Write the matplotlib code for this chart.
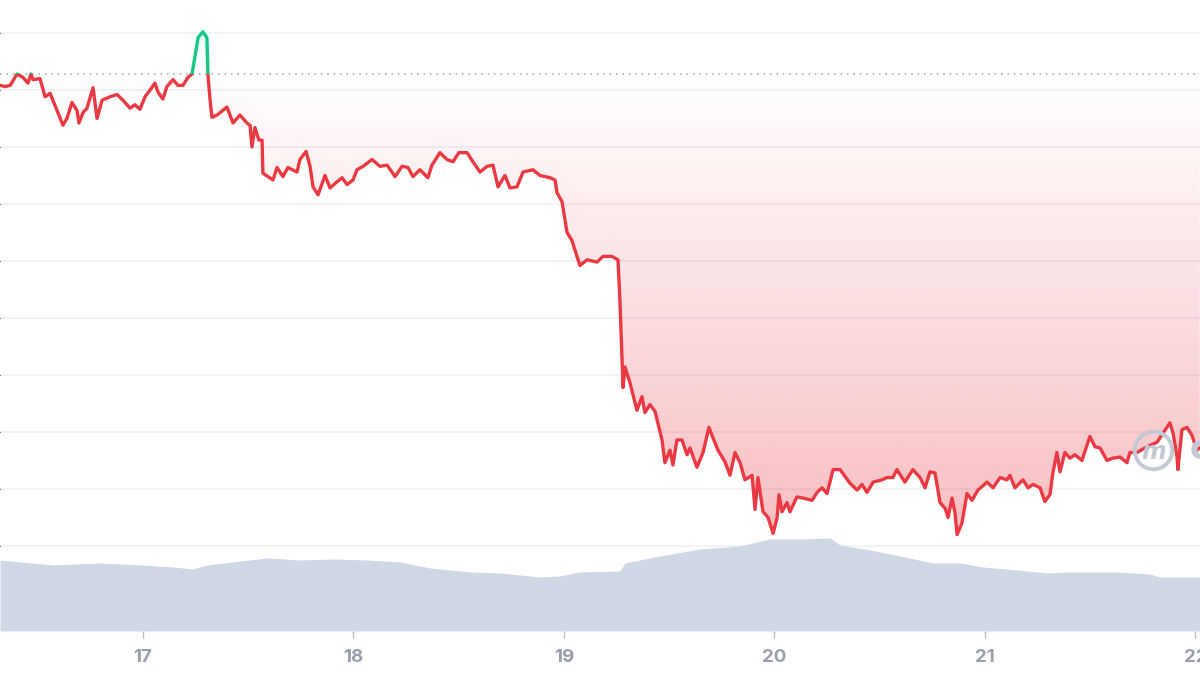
import numpy as np
import matplotlib
matplotlib.use("Agg")
import matplotlib.pyplot as plt
from matplotlib.path import Path
from matplotlib.patches import Rectangle
from matplotlib.colors import to_rgb

# price trace (day of month, USD)
days = [16.321, 16.345, 16.369, 16.402, 16.430, 16.454, 16.468, 16.478, 16.511, 16.535,
        16.559, 16.592, 16.620, 16.639, 16.663, 16.687, 16.696, 16.715, 16.734, 16.763,
        16.782, 16.806, 16.844, 16.877, 16.905, 16.939, 16.962, 16.986, 17.010, 17.034,
        17.057, 17.072, 17.095, 17.114, 17.143, 17.167, 17.190, 17.214, 17.233, 17.247,
        17.262, 17.285, 17.304, 17.309, 17.319, 17.328, 17.352, 17.366, 17.399, 17.428,
        17.461, 17.494, 17.509, 17.518, 17.532, 17.551, 17.566, 17.570, 17.618, 17.637,
        17.665, 17.689, 17.732, 17.746, 17.775, 17.794, 17.808, 17.832, 17.865, 17.889,
        17.913, 17.946, 17.970, 17.998, 18.017, 18.046, 18.088, 18.126, 18.160, 18.198,
        18.231, 18.259, 18.283, 18.316, 18.354, 18.373, 18.411, 18.444, 18.473, 18.501,
        18.540, 18.568, 18.601, 18.635, 18.663, 18.687, 18.720, 18.744, 18.777, 18.806,
        18.853, 18.886, 18.934, 18.958, 18.967, 18.991, 19.015, 19.038, 19.062, 19.076,
        19.110, 19.157, 19.186, 19.228, 19.257, 19.266, 19.276, 19.281, 19.290, 19.314,
        19.347, 19.371, 19.385, 19.409, 19.433, 19.466, 19.480, 19.504, 19.518, 19.537,
        19.561, 19.585, 19.599, 19.632, 19.661, 19.689, 19.708, 19.732, 19.765, 19.789,
        19.813, 19.837, 19.860, 19.894, 19.908, 19.922, 19.946, 19.970, 19.994, 20.013,
        20.022, 20.036, 20.060, 20.074, 20.107, 20.136, 20.179, 20.203, 20.226, 20.250,
        20.279, 20.312, 20.359, 20.393, 20.416, 20.440, 20.469, 20.511, 20.535, 20.563,
        20.582, 20.620, 20.658, 20.692, 20.716, 20.739, 20.763, 20.787, 20.811, 20.825,
        20.844, 20.858, 20.868, 20.891, 20.915, 20.939, 20.967, 21.010, 21.039, 21.072,
        21.105, 21.119, 21.143, 21.181, 21.205, 21.229, 21.262, 21.285, 21.309, 21.323,
        21.342, 21.357, 21.380, 21.404, 21.428, 21.461, 21.499, 21.523, 21.547, 21.580,
        21.608, 21.642, 21.675, 21.689, 21.723, 21.770, 21.818, 21.865, 21.879, 21.894,
        21.913, 21.917, 21.936, 21.960, 21.984, 22.007, 22.021]
price = [1.404, 1.403, 1.404, 1.414, 1.411, 1.406, 1.414, 1.409, 1.410, 1.394,
         1.397, 1.382, 1.369, 1.375, 1.389, 1.382, 1.371, 1.380, 1.384, 1.402,
         1.375, 1.391, 1.394, 1.396, 1.391, 1.384, 1.387, 1.383, 1.394, 1.400,
         1.406, 1.398, 1.392, 1.403, 1.409, 1.404, 1.404, 1.411, 1.414, 1.429,
         1.446, 1.451, 1.446, 1.413, 1.391, 1.376, 1.378, 1.380, 1.385, 1.371,
         1.378, 1.371, 1.369, 1.350, 1.367, 1.356, 1.356, 1.327, 1.321, 1.332,
         1.324, 1.332, 1.328, 1.339, 1.346, 1.333, 1.315, 1.308, 1.325, 1.314,
         1.318, 1.323, 1.317, 1.321, 1.330, 1.333, 1.339, 1.333, 1.334, 1.324,
         1.333, 1.332, 1.324, 1.330, 1.323, 1.334, 1.345, 1.339, 1.337, 1.345,
         1.345, 1.337, 1.328, 1.333, 1.334, 1.315, 1.325, 1.314, 1.315, 1.328,
         1.330, 1.325, 1.323, 1.321, 1.310, 1.302, 1.275, 1.268, 1.254, 1.246,
         1.251, 1.249, 1.254, 1.254, 1.251, 1.216, 1.163, 1.139, 1.157, 1.143,
         1.119, 1.131, 1.117, 1.124, 1.118, 1.093, 1.073, 1.084, 1.071, 1.093,
         1.093, 1.080, 1.086, 1.069, 1.082, 1.104, 1.095, 1.084, 1.074, 1.062,
         1.082, 1.073, 1.058, 1.062, 1.032, 1.060, 1.030, 1.025, 1.011, 1.025,
         1.045, 1.030, 1.038, 1.030, 1.043, 1.042, 1.040, 1.047, 1.051, 1.046,
         1.067, 1.067, 1.055, 1.049, 1.054, 1.047, 1.056, 1.058, 1.060, 1.060,
         1.067, 1.056, 1.067, 1.060, 1.051, 1.065, 1.064, 1.038, 1.033, 1.025,
         1.042, 1.029, 1.010, 1.020, 1.046, 1.040, 1.049, 1.056, 1.051, 1.060,
         1.058, 1.062, 1.051, 1.058, 1.051, 1.054, 1.051, 1.039, 1.045, 1.064,
         1.082, 1.065, 1.082, 1.077, 1.080, 1.075, 1.096, 1.087, 1.086, 1.075,
         1.077, 1.078, 1.073, 1.082, 1.082, 1.087, 1.091, 1.104, 1.108, 1.099,
         1.078, 1.067, 1.102, 1.104, 1.097, 1.084, 1.086]
open_price = 1.4136

# volume trace (day of month, millions USD)
vol_days = [16.321, 16.573, 16.796, 16.986, 17.143, 17.238, 17.304, 17.589, 17.746, 17.903,
            18.065, 18.221, 18.364, 18.554, 18.696, 18.886, 18.981, 19.076, 19.266, 19.290,
            19.456, 19.646, 19.836, 19.979, 20.122, 20.264, 20.312, 20.454, 20.597, 20.753,
            20.881, 20.991, 21.152, 21.295, 21.390, 21.627, 21.784, 21.831, 22.021]
volume = [35.5, 33, 34, 33, 32, 31, 33, 36.5, 35.5, 36,
          35.5, 34.5, 31.5, 29.5, 29, 27, 27.5, 29.5, 30, 34,
          37.5, 41, 42.5, 46, 46, 46.5, 43, 40.5, 37.5, 34,
          34, 32, 30.5, 29, 29.5, 29.5, 28.5, 27, 27]

day_ticks = [17, 18, 19, 20, 21, 22]
grid_levels = [1.00, 1.05, 1.10, 1.15, 1.20, 1.25, 1.30, 1.35, 1.40, 1.45]

RED = "#ea3943"
GREEN = "#16c784"
x0, x1 = 16.321, 22.022
y0, y1 = 0.9254, 1.4789

t = np.array(days)
p = np.array(price)

fig = plt.figure(figsize=(12, 6.75), dpi=100)
ax = fig.add_axes([0, 44 / 675, 1, 631 / 675])

def gradient_fill(where, color, a_top, a_bot, lo, hi):
    poly = ax.fill_between(t, p, open_price, where=where, interpolate=True,
                           facecolor="none", edgecolor="none")
    rgba = np.zeros((256, 1, 4))
    rgba[..., :3] = to_rgb(color)
    rgba[:, 0, 3] = np.linspace(a_top, a_bot, 256)
    im = ax.imshow(rgba, extent=[x0, x1, lo, hi], origin="upper",
                   aspect="auto", zorder=1, interpolation="bilinear")
    paths = poly.get_paths()
    if paths:
        im.set_clip_path(Path.make_compound_path(*paths), ax.transData)
    else:
        im.set_visible(False)

gradient_fill(p <= open_price, RED, 0.0, 0.34, 0.995, open_price)
gradient_fill(p >= open_price, GREEN, 0.12, 0.0, open_price, 1.46)

# price line, red below the open and green above
red_line, = ax.plot(t, p, color=RED, lw=2.4, zorder=3, solid_joinstyle="round")
red_line.set_clip_path(Rectangle((x0, y0), x1 - x0, open_price - y0, transform=ax.transData))
green_line, = ax.plot(t, p, color=GREEN, lw=2.4, zorder=3, solid_joinstyle="round")
green_line.set_clip_path(Rectangle((x0, open_price), x1 - x0, y1 - open_price, transform=ax.transData))

ax.axhline(open_price, color="#9aa3b5", lw=1.1, ls=(0, (1, 3.2)), zorder=2)

ax.set_xlim(x0, x1)
ax.set_ylim(y0, y1)
ax.set_yticks(grid_levels)
ax.yaxis.grid(True, color="#eef0f4", lw=1.1)
ax.set_axisbelow(True)
ax.tick_params(axis="y", left=False, labelleft=False)
ax.set_xticks(day_ticks)
ax.set_xticklabels([str(d) for d in day_ticks])
ax.tick_params(axis="x", length=5, width=1, color="#b8bdc9", pad=8,
               labelsize=13.5, labelcolor="#999eaa")
for lbl in ax.get_xticklabels():
    lbl.set_fontfamily(["Inter", "DejaVu Sans"])
    lbl.set_fontweight("bold")
for s in ax.spines.values():
    s.set_visible(False)

# volume area
ax2 = ax.twinx()
ax2.fill_between(vol_days, volume, 0, color="#cfd6e4", lw=0)
ax2.set_ylim(0, 315.5)
ax2.set_xlim(x0, x1)
ax2.tick_params(axis="y", right=False, labelright=False)
for s in ax2.spines.values():
    s.set_visible(False)

# watermark
ax.plot([0.961], [0.287], marker="o", ms=27, mfc="none", mec="#c3c8d3", mew=2.8,
        transform=ax.transAxes, zorder=4)
ax.text(0.961, 0.284, "m", transform=ax.transAxes, ha="center", va="center",
        fontsize=17, color="#c3c8d3", fontweight="bold", style="italic", zorder=4)
ax.text(0.991, 0.287, "c", transform=ax.transAxes, ha="left", va="center",
        fontsize=24, color="#c3c8d3", fontweight="bold", zorder=4)

fig.savefig("out.png", dpi=100, facecolor="white")
